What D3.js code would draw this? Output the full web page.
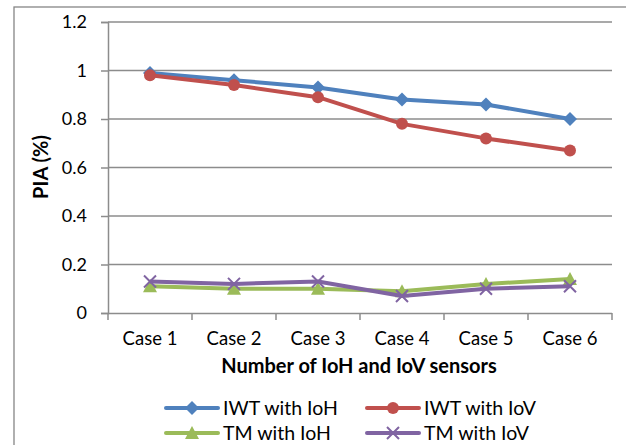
<!DOCTYPE html>
<html><head><meta charset="utf-8">
<script src="https://cdn.jsdelivr.net/npm/d3@7"></script>
<style>body{margin:0;background:#fff;} text{font-family:Lato,"Open Sans",sans-serif;fill:#000;}</style>
</head><body>
<svg id="c" width="626" height="445"></svg>
<script>
const categories = ["Case 1","Case 2","Case 3","Case 4","Case 5","Case 6"];
const iwtIoH = [0.99,0.96,0.93,0.88,0.86,0.80];
const iwtIoV = [0.98,0.94,0.89,0.78,0.72,0.67];
const tmIoH  = [0.11,0.10,0.10,0.09,0.12,0.14];
const tmIoV  = [0.13,0.12,0.13,0.07,0.10,0.11];
const yTicks = [0,0.2,0.4,0.6,0.8,1,1.2];
const seriesNames = ["IWT with IoH","IWT with IoV","TM with IoH","TM with IoV"];
const colors = ["#4F81BD","#C0504D","#9BBB59","#8064A2"];
const markers = ["diamond","circle","triangle","x"];
const seriesData = [iwtIoH, iwtIoV, tmIoH, tmIoV];

const svg = d3.select("#c");
// outer chart border
svg.append("rect").attr("x",14).attr("y",7).attr("width",640).attr("height",460)
  .attr("fill","none").attr("stroke","#868686").attr("stroke-width",1.3);

const L=108, R=612, T=22, B=313;
const x = d3.scaleBand().domain(categories).range([L,R]);
const y = d3.scaleLinear().domain([0,1.2]).range([B,T]);

// gridlines
svg.append("g").selectAll("line").data(yTicks.filter(d=>d>0)).join("line")
  .attr("x1",L).attr("x2",R).attr("y1",d=>y(d)).attr("y2",d=>y(d))
  .attr("stroke","#8c8c8c").attr("stroke-width",1.5);

// y axis
const ya = svg.append("g").attr("transform",`translate(${L},0)`)
  .call(d3.axisLeft(y).tickValues(yTicks).tickSize(7).tickPadding(14).tickFormat(d=>d3.format("")(+d.toFixed(1))));
ya.select(".domain").attr("stroke","#8c8c8c").attr("stroke-width",1.5);
ya.selectAll(".tick line").attr("stroke","#8c8c8c").attr("stroke-width",1.5);
ya.selectAll("text").style("font-size","18px").attr("fill","#000");

// x axis
const xa = svg.append("g").attr("transform",`translate(0,${B})`)
  .call(d3.axisBottom(x).tickSize(0).tickPadding(19));
xa.select(".domain").attr("stroke","#8c8c8c").attr("stroke-width",1.5).attr("d",`M${L},0.5H${R}`);
xa.selectAll("text").style("font-size","18.5px").attr("fill","#000");
// category boundary ticks
const bounds = categories.map(c=>x(c)).concat([R]);
xa.append("g").selectAll("line").data(bounds).join("line")
  .attr("x1",d=>d).attr("x2",d=>d).attr("y1",0).attr("y2",7)
  .attr("stroke","#8c8c8c").attr("stroke-width",1.5);

// titles
svg.append("text").attr("x",(L+R)/2 - 1).attr("y",373).attr("text-anchor","middle")
  .style("font-size","20px").style("font-weight","bold").text("Number of IoH and IoV sensors");
svg.append("text").attr("transform",`translate(48,167) rotate(-90)`).attr("text-anchor","middle")
  .style("font-size","20px").style("font-weight","bold").text("PIA (%)");

function drawMarker(g, type, color, cx, cy, s){
  if(type==="diamond"){
    g.append("path").attr("d",`M${cx},${cy-7}L${cx+7},${cy}L${cx},${cy+7}L${cx-7},${cy}Z`).attr("fill",color);
  } else if(type==="circle"){
    g.append("circle").attr("cx",cx).attr("cy",cy).attr("r",6).attr("fill",color);
  } else if(type==="triangle"){
    g.append("path").attr("d",`M${cx},${cy-7}L${cx+7},${cy+6}L${cx-7},${cy+6}Z`).attr("fill",color);
  } else {
    g.append("path").attr("d",`M${cx-6},${cy-6}L${cx+6},${cy+6}M${cx-6},${cy+6}L${cx+6},${cy-6}`)
      .attr("stroke",color).attr("stroke-width",2).attr("fill","none");
  }
}

const line = d3.line().x((d,i)=>x(categories[i])+x.bandwidth()/2).y(d=>y(d));
const order = [2,3,0,1];
order.forEach(k=>{
  const g = svg.append("g");
  g.append("path").datum(seriesData[k]).attr("d",line).attr("fill","none")
    .attr("stroke",colors[k]).attr("stroke-width",4).attr("stroke-linejoin","round");
  seriesData[k].forEach((v,i)=>drawMarker(g,markers[k],colors[k],x(categories[i])+x.bandwidth()/2,y(v)));
});

// legend
const legPos = [[166,408],[367,408],[166,433],[367,433]];
seriesNames.forEach((n,k)=>{
  const [lx,ly] = legPos[k];
  const g = svg.append("g");
  g.append("line").attr("x1",lx).attr("x2",lx+52).attr("y1",ly).attr("y2",ly)
    .attr("stroke",colors[k]).attr("stroke-width",4).attr("stroke-linecap","round");
  drawMarker(g,markers[k],colors[k],lx+26,ly);
  g.append("text").attr("x",lx+57).attr("y",ly).attr("dy","0.35em")
    .style("font-size","19.5px").text(n);
});
</script>
</body></html>
